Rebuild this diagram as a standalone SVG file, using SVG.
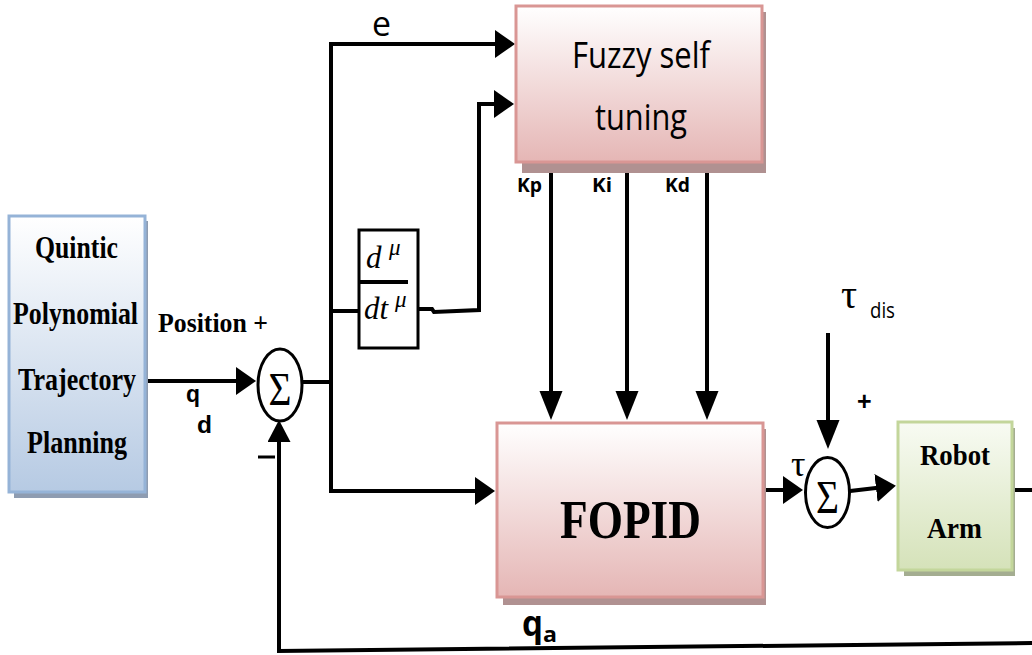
<svg xmlns="http://www.w3.org/2000/svg" width="1032" height="655" viewBox="0 0 1032 655">
<defs>
<linearGradient id="gPink" x1="0" y1="0" x2="0" y2="1"><stop offset="0" stop-color="#ffffff"/><stop offset="1" stop-color="#e5b6b5"/></linearGradient>
<linearGradient id="gBlue" x1="0" y1="0" x2="0" y2="1"><stop offset="0" stop-color="#ffffff"/><stop offset="1" stop-color="#b6cae3"/></linearGradient>
<linearGradient id="gGreen" x1="0" y1="0" x2="0" y2="1"><stop offset="0" stop-color="#f8fbf3"/><stop offset="1" stop-color="#d5e2b9"/></linearGradient>
<marker id="aH" markerUnits="userSpaceOnUse" markerWidth="22" markerHeight="30" refX="0" refY="14" orient="auto"><path d="M0,0 L20,14 L0,28 z" fill="#000"/></marker>
<marker id="aV" markerUnits="userSpaceOnUse" markerWidth="30" markerHeight="24" refX="0" refY="11.5" orient="auto"><path d="M0,0 L29,11.5 L0,23 z" fill="#000"/></marker>
<marker id="aS" markerUnits="userSpaceOnUse" markerWidth="24" markerHeight="24" refX="0" refY="11.5" orient="auto"><path d="M0,0 L22,11.5 L0,23 z" fill="#000"/></marker>
</defs>
<style>
.ln{fill:none;stroke:#000;stroke-width:4;stroke-linejoin:miter;stroke-linecap:square}
.tb{font-family:"Liberation Serif",serif;font-weight:bold;fill:#000}
.sa{font-family:"Open Sans","Liberation Sans",sans-serif;fill:#000}
.sum{fill:#fff;stroke:#000;stroke-width:3}
.sg{font-family:"Liberation Serif",serif;font-size:46px;text-anchor:middle}
</style>
<rect width="1032" height="655" fill="#fff"/>

<g id="connectors">
<path class="ln" d="M146,381 H236" marker-end="url(#aH)"/>
<path class="ln" d="M302,382 H331"/>
<path class="ln" d="M331,491 V44 H495" marker-end="url(#aH)"/>
<path class="ln" d="M331,491 H475" marker-end="url(#aH)"/>
<path class="ln" d="M331,311 H359"/>
<path class="ln" d="M418,309 H432 L434,312 L479,310 V104 H494" marker-end="url(#aH)"/>
<path class="ln" d="M551,163 V391" marker-end="url(#aV)"/>
<path class="ln" d="M627,163 V391" marker-end="url(#aV)"/>
<path class="ln" d="M707,163 V391" marker-end="url(#aV)"/>
<path class="ln" d="M763,490 H783" marker-end="url(#aH)"/>
<path class="ln" d="M850,491 L876,488" marker-end="url(#aH)"/>
<path class="ln" d="M828,335 V420" marker-end="url(#aV)"/>
<path class="ln" d="M1015,490 H1034"/>
<path class="ln" d="M1034,643 L279,651 V442" marker-end="url(#aS)"/>
<path d="M258,457 H275" stroke="#000" stroke-width="3"/>
</g>

<g id="trajectory">
<rect x="14" y="221" width="134" height="277" fill="#8e9cb1"/>
<rect x="9" y="216" width="136" height="276" fill="url(#gBlue)" stroke="#95b3d7" stroke-width="3"/>
<text class="tb" x="35" y="258" font-size="31" textLength="83" lengthAdjust="spacingAndGlyphs">Quintic</text>
<text class="tb" x="13" y="324" font-size="31" textLength="125" lengthAdjust="spacingAndGlyphs">Polynomial</text>
<text class="tb" x="18" y="390" font-size="31" textLength="118" lengthAdjust="spacingAndGlyphs">Trajectory</text>
<text class="tb" x="27" y="453" font-size="31" textLength="100" lengthAdjust="spacingAndGlyphs">Planning</text>
</g>

<g id="labels">
<text class="tb" x="158" y="332" font-size="27" textLength="110" lengthAdjust="spacingAndGlyphs">Position +</text>
<text x="186" y="402" font-family="Liberation Sans, sans-serif" font-weight="bold" font-size="24" textLength="14" lengthAdjust="spacingAndGlyphs">q</text>
<text x="197" y="433" font-family="Liberation Sans, sans-serif" font-weight="bold" font-size="24" textLength="15" lengthAdjust="spacingAndGlyphs">d</text>
<text class="sa" x="372" y="36" font-size="35" textLength="19" lengthAdjust="spacingAndGlyphs">e</text>
<text class="sa" x="517" y="192" font-size="19" font-weight="bold" textLength="25" lengthAdjust="spacingAndGlyphs">Kp</text>
<text class="sa" x="592" y="192" font-size="19" font-weight="bold" textLength="20" lengthAdjust="spacingAndGlyphs">Ki</text>
<text class="sa" x="665" y="192" font-size="19" font-weight="bold" textLength="25" lengthAdjust="spacingAndGlyphs">Kd</text>
<text x="841" y="308" font-family="Liberation Serif, serif" font-size="40">τ</text>
<text class="sa" x="870" y="318" font-size="21" textLength="25" lengthAdjust="spacingAndGlyphs">dis</text>
<text x="857" y="410" font-family="Liberation Sans, sans-serif" font-weight="bold" font-size="25">+</text>
<text x="791" y="476" font-family="Liberation Serif, serif" font-size="36">τ</text>
<text class="sa" x="522" y="636" font-size="36" font-weight="bold" textLength="21" lengthAdjust="spacingAndGlyphs">q</text>
<text class="sa" x="543" y="642" font-size="22" font-weight="bold" textLength="14" lengthAdjust="spacingAndGlyphs">a</text>
</g>

<g id="sum1">
<ellipse class="sum" cx="280" cy="385" rx="22" ry="36"/>
<text class="sg" x="280" y="405" textLength="23" lengthAdjust="spacingAndGlyphs">Σ</text>
</g>

<g id="derivative">
<rect x="359" y="230" width="59" height="118" fill="#fff" stroke="#000" stroke-width="3"/>
<path d="M359,282 H408" stroke="#000" stroke-width="4"/>
<text x="366" y="268" font-family="Liberation Serif, serif" font-style="italic" font-size="31">d</text>
<text x="389" y="255" font-family="Liberation Serif, serif" font-style="italic" font-size="23">μ</text>
<text x="364" y="319" font-family="Liberation Serif, serif" font-style="italic" font-size="31">dt</text>
<text x="395" y="307" font-family="Liberation Serif, serif" font-style="italic" font-size="23">μ</text>
</g>

<g id="fuzzy">
<rect x="522" y="12" width="244" height="161" fill="#b09191"/>
<rect x="516" y="6" width="246" height="156" fill="url(#gPink)" stroke="#d99694" stroke-width="3"/>
<text class="sa" x="572" y="68" font-size="37" textLength="138" lengthAdjust="spacingAndGlyphs">Fuzzy self</text>
<text class="sa" x="595" y="130" font-size="37" textLength="92" lengthAdjust="spacingAndGlyphs">tuning</text>
</g>

<g id="fopid">
<rect x="503" y="429" width="263" height="176" fill="#b09191"/>
<rect x="497" y="423" width="266" height="174" fill="url(#gPink)" stroke="#d99694" stroke-width="3"/>
<text class="tb" x="560" y="538" font-size="55" textLength="141" lengthAdjust="spacingAndGlyphs">FOPID</text>
</g>

<g id="sum2">
<ellipse class="sum" cx="827.5" cy="492.5" rx="22" ry="35"/>
<text class="sg" x="827.5" y="513" textLength="23" lengthAdjust="spacingAndGlyphs">Σ</text>
</g>

<g id="robot">
<rect x="904" y="428" width="111" height="148" fill="#a4ad91"/>
<rect x="898" y="422" width="114" height="148" fill="url(#gGreen)" stroke="#c3d69b" stroke-width="3"/>
<text class="tb" x="920" y="465" font-size="30" textLength="70" lengthAdjust="spacingAndGlyphs">Robot</text>
<text class="tb" x="927" y="538" font-size="30" textLength="55" lengthAdjust="spacingAndGlyphs">Arm</text>
</g>
</svg>
